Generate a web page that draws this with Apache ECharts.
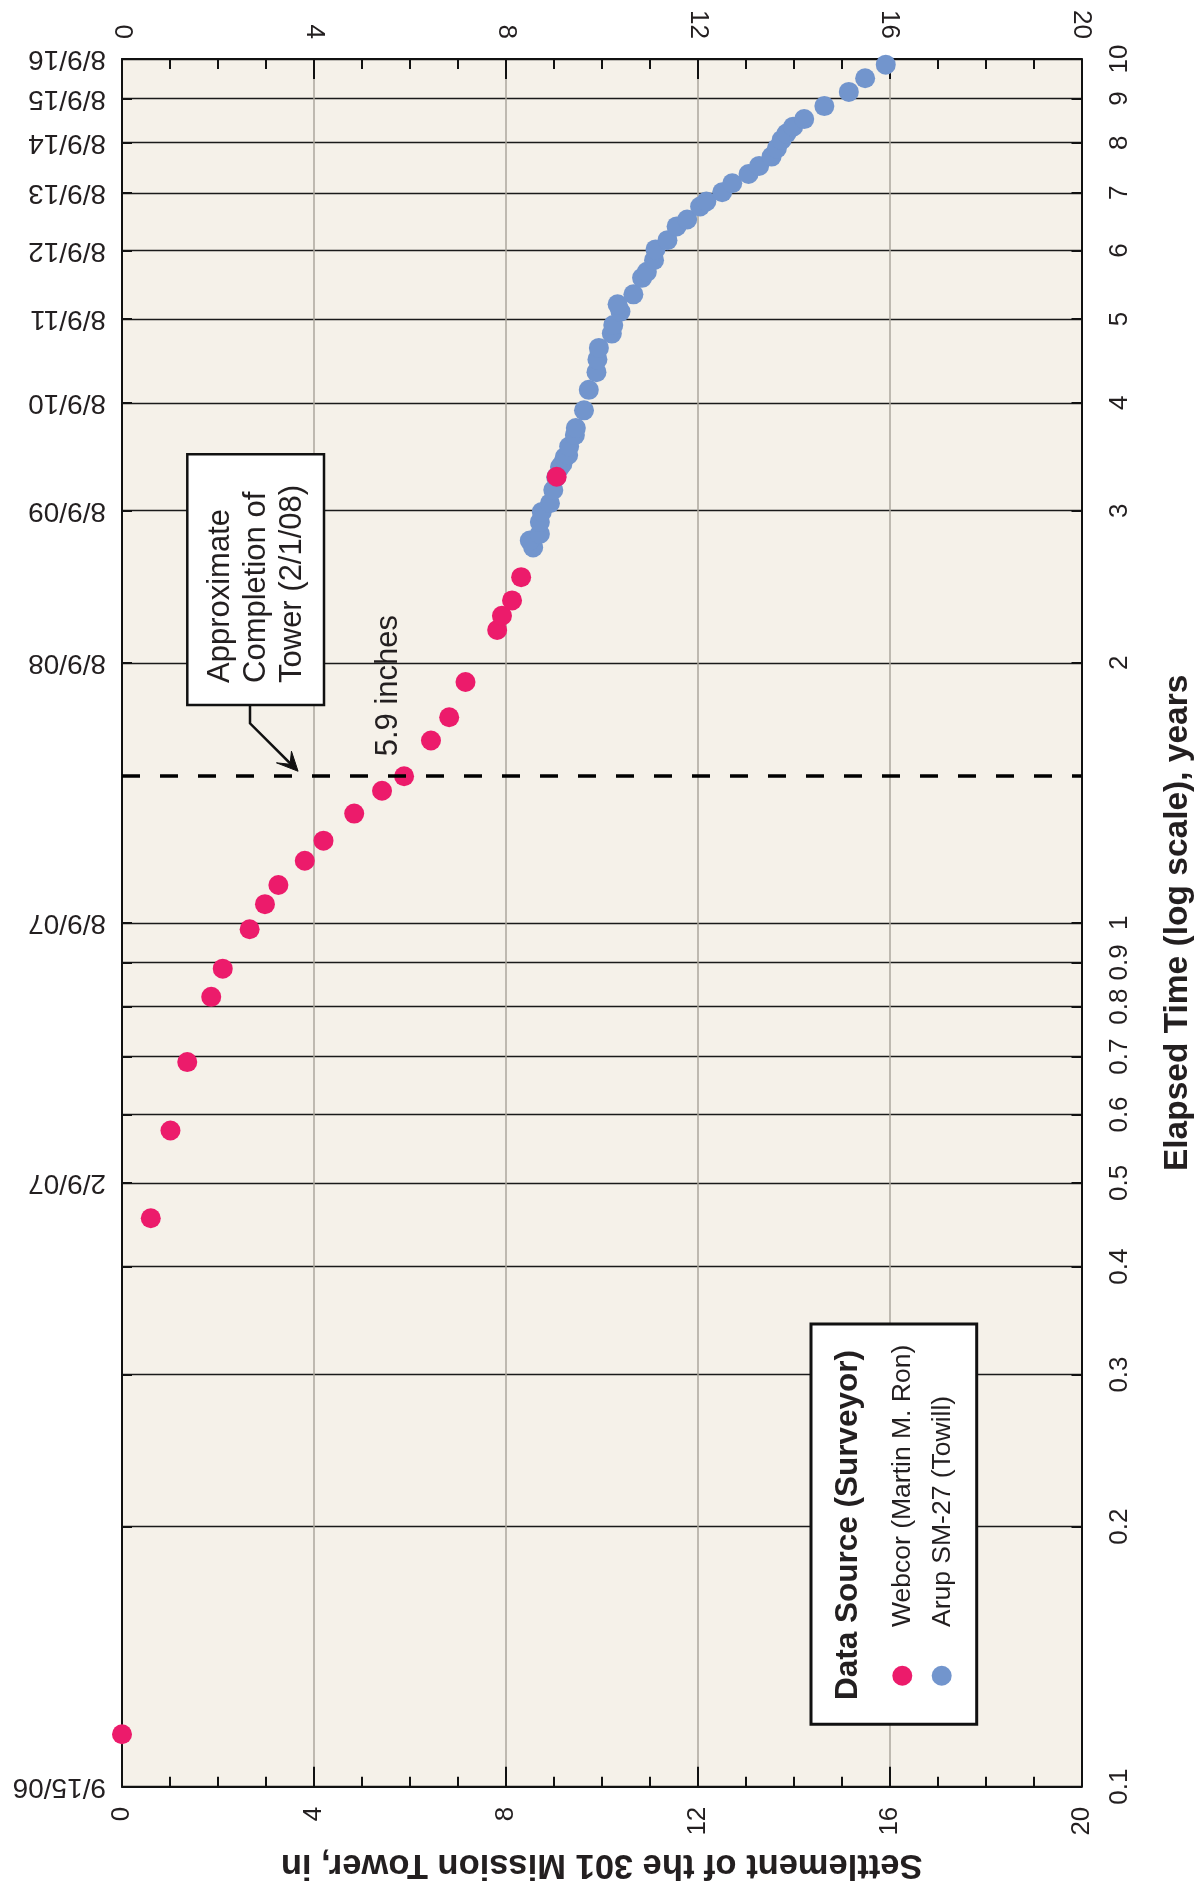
<!DOCTYPE html>
<html><head><meta charset="utf-8">
<script src="https://cdn.jsdelivr.net/npm/echarts@6/dist/echarts.min.js"></script>
<style>html,body{margin:0;padding:0;background:#fff}#c{width:1196px;height:1891px}</style>
</head><body><div id="c"></div>
<script>
// ---- data (elapsed years since 8/9/06, settlement in inches) ----
const webcorYears      = [0.115, 0.455, 0.575, 0.690, 0.821, 0.885, 0.983, 1.051, 1.106, 1.180, 1.245, 1.338, 1.422, 1.478, 1.626, 1.73, 1.90, 2.183, 2.267, 2.362, 2.513, 3.284];
const webcorSettlement = [0.0,   0.60,  1.01,  1.36,  1.86,  2.10,  2.66,  2.98,  3.26,  3.81,  4.20,  4.84,  5.42,  5.88,  6.44,  6.82, 7.16, 7.82,  7.92,  8.13,  8.32,  9.06];
const arupYears      = [2.72, 2.77, 2.82, 2.91, 2.99, 3.06, 3.17, 3.28, 3.37, 3.40, 3.46, 3.48, 3.56, 3.67, 3.74, 3.92, 4.14, 4.34, 4.49, 4.63, 4.81, 4.92, 5.10, 5.20, 5.34, 5.58, 5.67, 5.85, 6.02, 6.17, 6.40, 6.52, 6.75, 6.84, 7.01, 7.18, 7.36, 7.52, 7.71, 7.88, 8.06, 8.20, 8.35, 8.52, 8.82, 9.16, 9.50, 9.85];
const arupSettlement = [8.57, 8.50, 8.71, 8.71, 8.75, 8.92, 8.99, 9.05, 9.13, 9.18, 9.23, 9.30, 9.32, 9.44, 9.46, 9.63, 9.73, 9.89, 9.91, 9.94, 10.21, 10.24, 10.39, 10.33, 10.66, 10.84, 10.94, 11.09, 11.12, 11.37, 11.56, 11.78, 12.05, 12.18, 12.51, 12.72, 13.06, 13.28, 13.54, 13.65, 13.75, 13.85, 13.99, 14.22, 14.64, 15.15, 15.49, 15.92];
const timeTicks      = [0.1,0.2,0.3,0.4,0.5,0.6,0.7,0.8,0.9,1,2,3,4,5,6,7,8,9,10];
const timeTickLabels = ['0.1','0.2','0.3','0.4','0.5','0.6','0.7','0.8','0.9','1','2','3','4','5','6','7','8','9','10'];
const dateTickYears  = [0.1, 0.5, 1, 2, 3, 4, 5, 6, 7, 8, 9, 10];
const dateTickLabels = ['9/15/06','2/9/07','8/9/07','8/9/08','8/9/09','8/9/10','8/9/11','8/9/12','8/9/13','8/9/14','8/9/15','8/9/16'];
const settlementMin = 0, settlementMax = 20, settlementStep = 4;
const completionYears = 1.49;      // 2/1/08
const completionSettlement = 5.9;  // inches

const RED = '#EC1B6B', BLUE = '#7295CD', INK = '#231F20';
const FONT = '"Liberation Sans", Arial, Helvetica, sans-serif';
const L = v => Math.log10(v);
const key = v => v.toFixed(6);
const dateMap = {}; dateTickYears.forEach((y,i)=>dateMap[key(L(y))]=dateTickLabels[i]);
const timeMap = {}; timeTicks.forEach((y,i)=>timeMap[key(L(y))]=timeTickLabels[i]);

const chart = echarts.init(document.getElementById('c'), null, {renderer:'canvas'});
const xCommon = {
  type:'value', min:settlementMin, max:settlementMax, interval:settlementStep,
  axisLine:{show:true, onZero:false, lineStyle:{color:'#111', width:2}},
  axisTick:{show:true, inside:true, length:20, lineStyle:{color:'#111', width:2}},
  minorTick:{show:true, splitNumber:4, length:10, lineStyle:{color:'#111', width:2}},
  axisLabel:{rotate:90, fontSize:26, color:INK, fontFamily:FONT, margin:20},
};
const yCommon = {
  type:'value', min:-1, max:1,
  axisLine:{show:true, onZero:false, lineStyle:{color:'#111', width:2}},
  axisTick:{show:true, inside:true, length:10, customValues: timeTicks.map(L), lineStyle:{color:'#111', width:2}},
};
chart.setOption({
  backgroundColor:'#fff',
  animation:false,
  grid:{left:122, top:59, right:114.5, bottom:104.3, show:true, backgroundColor:'#F5F1E9', borderWidth:0,
        containLabel:false, outerBoundsMode:'none'},
  xAxis:[
    Object.assign({}, xCommon, {position:'bottom',
      name:'Settlement of the 301 Mission Tower, in', nameLocation:'middle', nameRotate:180, nameGap:60,
      nameTextStyle:{fontSize:34.5, fontWeight:'bold', color:INK, fontFamily:FONT},
      splitLine:{show:true, lineStyle:{color:'#ABA69D', width:1.5}}}),
    Object.assign({}, xCommon, {position:'top', splitLine:{show:false}})
  ],
  yAxis:[
    Object.assign({}, yCommon, {position:'left',
      axisLabel:{customValues: dateTickYears.map(L), rotate:180, fontSize:28, color:INK, fontFamily:FONT, margin:16,
        formatter: v => dateMap[key(v)] || ''},
      splitLine:{show:true, lineStyle:{color:'#1a1a1a', width:1.3}}}),
    Object.assign({}, yCommon, {position:'right',
      name:'Elapsed Time (log scale), years', nameLocation:'middle', nameRotate:90, nameGap:79,
      nameTextStyle:{fontSize:33.5, fontWeight:'bold', color:INK, fontFamily:FONT},
      axisLabel:{customValues: timeTicks.map(L), rotate:90, fontSize:26, color:INK, fontFamily:FONT, margin:25,
        formatter: v => timeMap[key(v)] || ''},
      splitLine:{show:false}})
  ],
  series:[
    {name:'Arup SM-27 (Towill)', type:'scatter', xAxisIndex:0, yAxisIndex:0, symbolSize:20,
      itemStyle:{color:BLUE, opacity:1},
      data: arupYears.map((y,i)=>[arupSettlement[i], L(y)])},
    {name:'Webcor (Martin M. Ron)', type:'scatter', xAxisIndex:0, yAxisIndex:0, symbolSize:20,
      itemStyle:{color:RED, opacity:1},
      data: webcorYears.map((y,i)=>[webcorSettlement[i], L(y)]),
      markLine:{silent:true, symbol:'none', label:{show:false},
        lineStyle:{color:'#000', width:3.5, type:[18,20]},
        data:[{yAxis: L(completionYears)}]}}
  ]
});

const tip = chart.convertToPixel({xAxisIndex:0, yAxisIndex:0}, [3.67, L(completionYears)]);
const tx = tip[0], ty = tip[1] - 2;
const lbl = chart.convertToPixel({xAxisIndex:0, yAxisIndex:0}, [completionSettlement, L(completionYears)]);
const textStyle = (s, extra) => Object.assign({text:s, fill:INK, font:'31px ' + FONT, align:'left', verticalAlign:'middle'}, extra||{});
chart.setOption({graphic:[
  // annotation box
  {type:'rect', shape:{x:187.3, y:454.3, width:136.7, height:250.7}, style:{fill:'#fff', stroke:'#111', lineWidth:2.5}, z:100},
  {type:'text', x:220, y:683, rotation:Math.PI/2, style:textStyle('Approximate'), z:101},
  {type:'text', x:256, y:683, rotation:Math.PI/2, style:textStyle('Completion of'), z:101},
  {type:'text', x:292, y:683, rotation:Math.PI/2, style:textStyle('Tower (2/1/08)'), z:101},
  {type:'polyline', shape:{points:[[250,705],[250,723.3],[tx-3,ty-3]]}, style:{stroke:'#111', lineWidth:2.5, fill:null}, z:101},
  {type:'polygon', shape:{points:[[tx,ty],[tx-21.6,ty-8.4],[tx-8,ty-7],[tx-6.6,ty-20]]}, style:{fill:'#111', stroke:'#111', lineWidth:1}, z:101},
  {type:'text', x:lbl[0] - 17, y:lbl[1] - 17, rotation:Math.PI/2, style:textStyle('5.9 inches'), z:101},
  // legend
  {type:'rect', shape:{x:811, y:1324, width:165.7, height:400.3}, style:{fill:'#fff', stroke:'#111', lineWidth:3}, z:100},
  {type:'text', x:848.5, y:1700, rotation:Math.PI/2, style:textStyle('Data Source (Surveyor)', {font:'bold 31.5px ' + FONT}), z:101},
  {type:'circle', shape:{cx:902.3, cy:1675.7, r:10}, style:{fill:RED}, z:101},
  {type:'circle', shape:{cx:941.7, cy:1675.7, r:10}, style:{fill:BLUE}, z:101},
  {type:'text', x:903, y:1627, rotation:Math.PI/2, style:textStyle('Webcor (Martin M. Ron)', {font:'26.5px ' + FONT}), z:101},
  {type:'text', x:943, y:1627, rotation:Math.PI/2, style:textStyle('Arup SM-27 (Towill)', {font:'26.5px ' + FONT}), z:101}
]});
</script></body></html>
